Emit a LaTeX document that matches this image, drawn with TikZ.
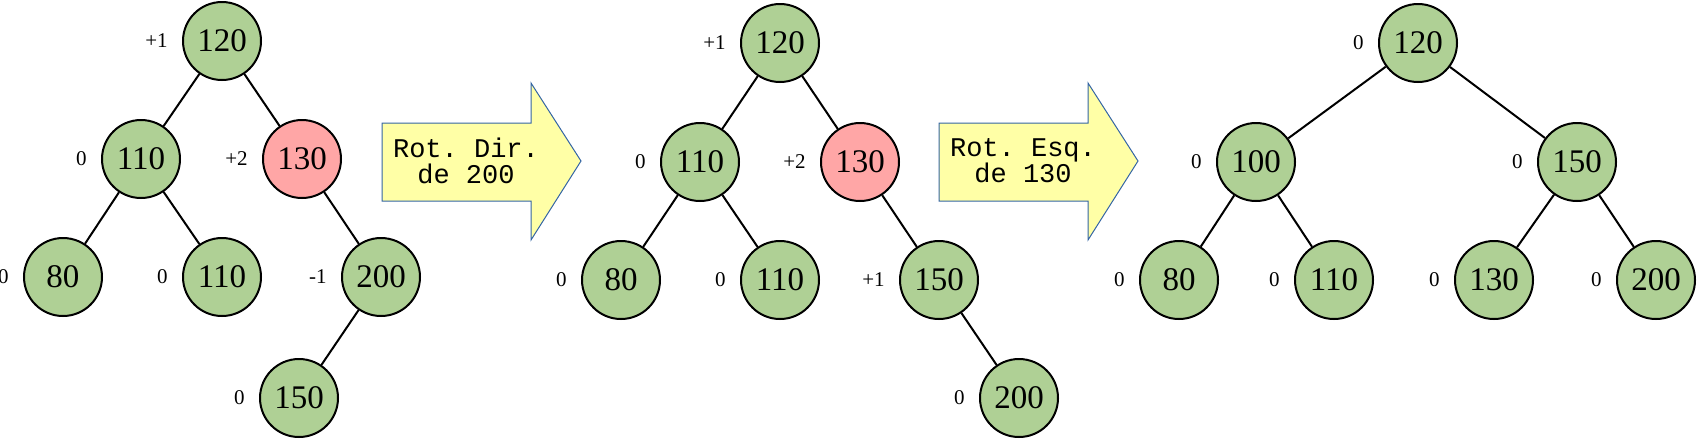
\documentclass[tikz,border=0pt]{standalone}
\usepackage{fontspec}
\setmainfont{Liberation Serif}
\setmonofont{Liberation Mono}
\definecolor{avlgreen}{HTML}{AFD095}
\definecolor{avlred}{HTML}{FFA6A6}
\definecolor{rotfill}{HTML}{FFFFA6}
\definecolor{rotline}{HTML}{3465A4}
\tikzset{
  avl/.style={circle, draw=black, line width=1pt, minimum size=39pt, inner sep=0pt, font=\fontsize{16.5}{18}\selectfont},
  fb/.style={label distance=7pt, inner sep=0pt, font=\fontsize{10.5}{12}\selectfont},
  edge/.style={line width=1pt},
  rot/.style={draw=rotline, line width=0.5pt, fill=rotfill},
  rottext/.style={align=center, inner sep=0pt, font=\ttfamily\fontsize{13.5}{13}\selectfont}
}
\begin{document}
\begin{tikzpicture}[x=0.5pt,y=-0.5pt]
\useasboundingbox (0,0) rectangle (1698,440);
% edit here for the first tree
\foreach \n/\x/\y/\v/\b/\c in {a/222/41/120/+1/avlgreen, b/141/159/110/0/avlgreen, c/302/159/130/+2/avlred,
  d/63/277/80/0/avlgreen, e/222/277/110/0/avlgreen, f/381/277/200/-1/avlgreen, g/299/398/150/0/avlgreen}
\node[avl, fill=\c, label={[fb]left:\b}] (\n) at (\x,\y) {\v};
\foreach \p/\q in {a/b, a/c, b/d, b/e, c/f, f/g}
\draw[edge] (\p) -- (\q);
% edit here for the second tree
\foreach \n/\x/\y/\v/\b/\c in {m1/780/43/120/+1/avlgreen, m2/700/162/110/0/avlgreen, m3/860/162/130/+2/avlred,
  m4/621/280/80/0/avlgreen, m5/780/280/110/0/avlgreen, m6/939/280/150/+1/avlgreen, m7/1019/398/200/0/avlgreen}
\node[avl, fill=\c, label={[fb]left:\b}] (\n) at (\x,\y) {\v};
\foreach \p/\q in {m1/m2, m1/m3, m2/m4, m2/m5, m3/m6, m6/m7}
\draw[edge] (\p) -- (\q);
% edit here for the third tree
\foreach \n/\x/\y/\v/\b in {n1/1418/43/120/0, n2/1256/162/100/0, n3/1577/162/150/0,
  n4/1179/280/80/0, n5/1334/280/110/0, n6/1494/280/130/0, n7/1656/280/200/0}
\node[avl, fill=avlgreen, label={[fb]left:\b}] (\n) at (\x,\y) {\v};
\foreach \p/\q in {n1/n2, n1/n3, n2/n4, n2/n5, n3/n6, n3/n7}
\draw[edge] (\p) -- (\q);
% rotation arrows
\foreach \x/\i/\t in {382/1/{Rot. Dir.\\de 200}, 939/2/{Rot. Esq.\\de 130}}{
\draw[rot, shift={(\x,0)}] (0,123) -- (149,123) -- (149,83) -- (199,161) -- (149,240) -- (149,201) -- (0,201) -- cycle;
\node[rottext] (rot\i) at (\x+84,161) {\t};
}
\end{tikzpicture}
\end{document}
